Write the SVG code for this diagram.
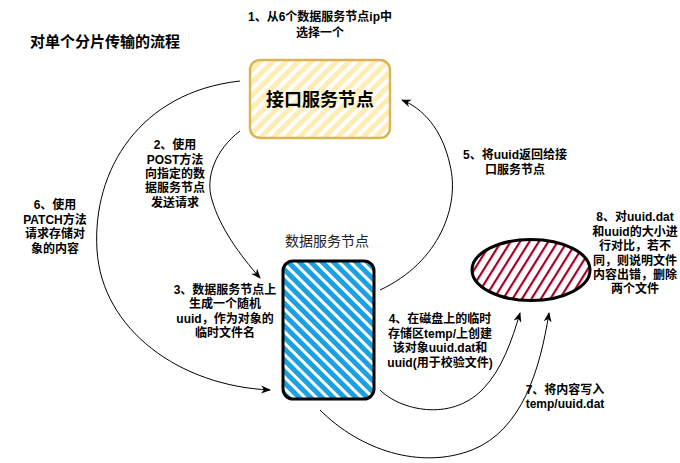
<svg xmlns="http://www.w3.org/2000/svg" width="680" height="463" viewBox="0 0 680 463">
<style>
text{font-family:"Liberation Sans","Noto Sans CJK SC",sans-serif;fill:#000}
.b{font-size:12px;font-weight:bold;text-anchor:middle}
.t{font-size:15px;font-weight:bold}
.c{fill:none;stroke:#000;stroke-width:1}
</style>
<defs>
<pattern id="py" patternUnits="userSpaceOnUse" width="9" height="9" patternTransform="rotate(45)">
<rect width="9" height="9" fill="#fff"/>
<rect width="5" height="9" fill="#ffedb3"/>
</pattern>
<pattern id="pb" patternUnits="userSpaceOnUse" width="8" height="8" patternTransform="rotate(-45)">
<rect width="8" height="8" fill="#fff"/>
<rect width="5" height="8" fill="#1ba1e2"/>
</pattern>
<pattern id="pr" patternUnits="userSpaceOnUse" width="8" height="8" patternTransform="rotate(32)">
<rect width="8" height="8" fill="#fff"/>
<rect width="2.2" height="8" fill="#a20025"/>
</pattern>
<marker id="ar" viewBox="0 0 10 10" refX="9" refY="5" markerWidth="10" markerHeight="10" markerUnits="userSpaceOnUse" orient="auto">
<path d="M0,1 L10,5 L0,9 L3,5 Z" fill="#000"/>
</marker>
</defs>
<text class="t" x="30" y="47">对单个分片传输的流程</text>
<g id="label1"><text class="b" x="320" y="21">1、从6个数据服务节点ip中</text><text class="b" x="320" y="37">选择一个</text></g>
<g id="interface-node">
<rect x="250" y="60" width="140" height="78" rx="10" fill="url(#py)" stroke="#d6b656" stroke-width="2.5"/>
<text x="320" y="106" style="font-size:18px;font-weight:bold;text-anchor:middle">接口服务节点</text>
</g>
<g id="data-node">
<text x="327" y="246" style="font-size:14px;text-anchor:middle;fill:#222">数据服务节点</text>
<rect x="283" y="261" width="91" height="138" rx="10" fill="url(#pb)" stroke="#000" stroke-width="3"/>
</g>
<g id="check-node">
<ellipse cx="531" cy="270" rx="59" ry="30.5" fill="url(#pr)" stroke="#000" stroke-width="3"/>
</g>
<g id="connectors">
<path class="c" d="M240 81 C140 92 92 170 97 250 C102 330 180 386 270 390" marker-end="url(#ar)"/>
<path class="c" d="M240 131 C215 150 205 178 212 200 C220 228 240 255 260 278" marker-end="url(#ar)"/>
<path class="c" d="M380 290 C440 262 460 205 450 165 C442 128 422 108 402 100" marker-end="url(#ar)"/>
<path class="c" d="M380 390 C400 410 450 422 482 390 C502 370 512 340 520 313" marker-end="url(#ar)"/>
<path class="c" d="M320 410 C360 450 420 470 472 450 C522 430 540 370 549 313" marker-end="url(#ar)"/>
</g>
<g id="labels">
<text class="b" x="175" y="149">2、使用</text>
<text class="b" x="175" y="163.5">POST方法</text>
<text class="b" x="175" y="178">向指定的数</text>
<text class="b" x="175" y="192">据服务节点</text>
<text class="b" x="175" y="206.5">发送请求</text>
<text class="b" x="55" y="209">6、使用</text>
<text class="b" x="55" y="223.5">PATCH方法</text>
<text class="b" x="55" y="238">请求存储对</text>
<text class="b" x="55" y="252.5">象的内容</text>
<text class="b" x="225" y="294">3、数据服务节点上</text>
<text class="b" x="225" y="308">生成一个随机</text>
<text class="b" x="225" y="322.5">uuid，作为对象的</text>
<text class="b" x="225" y="337">临时文件名</text>
<text class="b" x="515" y="159">5、将uuid返回给接</text>
<text class="b" x="515" y="174">口服务节点</text>
<text class="b" x="635" y="221">8、对uuid.dat</text>
<text class="b" x="635" y="236">和uuid的大小进</text>
<text class="b" x="635" y="250">行对比，若不</text>
<text class="b" x="635" y="265">同，则说明文件</text>
<text class="b" x="635" y="279">内容出错，删除</text>
<text class="b" x="635" y="293">两个文件</text>
<text class="b" x="440" y="323">4、在磁盘上的临时</text>
<text class="b" x="440" y="337.5">存储区temp/上创建</text>
<text class="b" x="440" y="352">该对象uuid.dat和</text>
<text class="b" x="440" y="366.5">uuid(用于校验文件)</text>
<text class="b" x="565" y="394">7、将内容写入</text>
<text class="b" x="565" y="408">temp/uuid.dat</text>
</g>
</svg>
